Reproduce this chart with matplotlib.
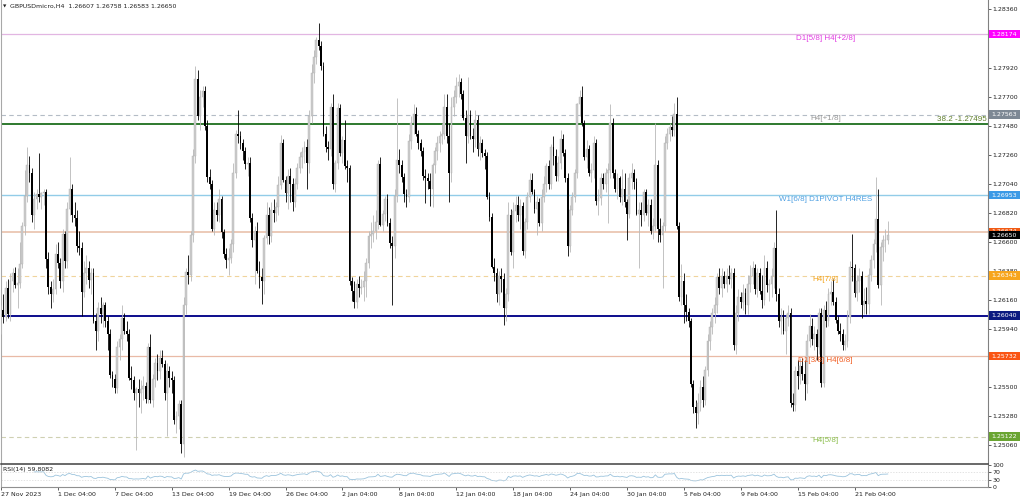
import numpy as np
import matplotlib.pyplot as plt
from matplotlib.patches import Rectangle

# GBPUSD H4 candles, prices in 1/10000 (12665 -> 1.2665)
opens = [
    12605, 12608, 12603, 12625, 12605, 12630, 12636, 12627, 12629, 12643, 12672, 12695, 12718, 12712, 12680,
    12692, 12696, 12694, 12697, 12698, 12647, 12626, 12620, 12624, 12651, 12644, 12630, 12666, 12645, 12685,
    12700, 12680, 12678, 12657, 12655, 12622, 12636, 12640, 12631, 12636, 12600, 12592, 12610, 12605, 12612,
    12600, 12590, 12559, 12556, 12549, 12580, 12586, 12602, 12592, 12590, 12557, 12555, 12545, 12548, 12545,
    12548, 12551, 12541, 12580, 12540, 12556, 12568, 12562, 12572, 12567, 12545, 12562, 12557, 12555, 12525,
    12528, 12537, 12507, 12612, 12637, 12635, 12665, 12725, 12783, 12755, 12770, 12774, 12748, 12709, 12704,
    12670, 12684, 12680, 12692, 12667, 12651, 12646, 12648, 12658, 12712, 12742, 12740, 12735, 12729, 12719,
    12720, 12678, 12661, 12668, 12638, 12633, 12630, 12663, 12680, 12664, 12684, 12682, 12686, 12703, 12735,
    12707, 12697, 12710, 12704, 12690, 12704, 12716, 12724, 12728, 12732, 12720, 12755, 12788, 12800, 12813,
    12808, 12793, 12742, 12732, 12730, 12762, 12704, 12720, 12761, 12727, 12737, 12717, 12716, 12630, 12623,
    12614, 12628, 12625, 12626, 12630, 12644, 12664, 12666, 12668, 12675, 12719, 12673, 12681, 12692, 12674,
    12659, 12657, 12695, 12722, 12718, 12709, 12696, 12694, 12736, 12750, 12757, 12742, 12735, 12729, 12710,
    12708, 12706, 12700, 12718, 12729, 12735, 12740, 12742, 12762, 12740, 12712, 12762, 12770, 12778, 12781,
    12772, 12754, 12740, 12756, 12740, 12738, 12752, 12730, 12735, 12727, 12725, 12694, 12679, 12641, 12636,
    12620, 12634, 12632, 12610, 12620, 12680, 12652, 12683, 12688, 12680, 12687, 12653, 12675, 12694, 12707,
    12698, 12685, 12690, 12674, 12694, 12704, 12717, 12704, 12732, 12725, 12710, 12720, 12738, 12727, 12708,
    12657, 12684, 12694, 12712, 12764, 12770, 12750, 12724, 12730, 12712, 12714, 12735, 12691, 12693, 12708,
    12704, 12712, 12714, 12750, 12712, 12700, 12708, 12694, 12700, 12690, 12681, 12708, 12712, 12705, 12681,
    12684, 12680, 12698, 12682, 12688, 12668, 12672, 12718, 12670, 12665, 12672, 12735, 12742, 12747, 12745,
    12757, 12672, 12618, 12630, 12612, 12607, 12600, 12552, 12535, 12530, 12538, 12550, 12540, 12563, 12585,
    12595, 12606, 12612, 12633, 12625, 12634, 12628, 12634, 12632, 12636, 12582, 12606, 12618, 12614, 12621,
    12612, 12628, 12634, 12640, 12624, 12636, 12623, 12616, 12640, 12627, 12628, 12634, 12655, 12620, 12600,
    12603, 12592, 12602, 12606, 12538, 12536, 12562, 12558, 12566, 12560, 12552, 12585, 12596, 12586, 12590,
    12580, 12606, 12553, 12608, 12600, 12620, 12622, 12614, 12601, 12592, 12590, 12582, 12585, 12603, 12641,
    12640, 12621, 12630, 12634, 12612, 12615, 12613, 12635, 12646, 12658, 12677, 12627, 12656, 12661, 12661,
]
highs = [
    12612, 12620, 12630, 12632, 12636, 12640, 12641, 12640, 12660, 12675, 12714, 12732, 12725, 12716, 12698,
    12700, 12727, 12698, 12700, 12700, 12652, 12630, 12632, 12658, 12660, 12648, 12670, 12668, 12690, 12724,
    12704, 12690, 12684, 12668, 12660, 12645, 12650, 12645, 12640, 12640, 12606, 12614, 12618, 12614, 12614,
    12604, 12594, 12562, 12560, 12585, 12590, 12612, 12606, 12600, 12594, 12566, 12558, 12550, 12556, 12555,
    12558, 12554, 12583, 12590, 12560, 12572, 12575, 12578, 12578, 12570, 12568, 12566, 12562, 12558, 12532,
    12540, 12540, 12618, 12640, 12650, 12668, 12730, 12793, 12790, 12775, 12778, 12778, 12752, 12715, 12707,
    12690, 12690, 12700, 12695, 12670, 12655, 12655, 12662, 12720, 12745, 12760, 12744, 12738, 12732, 12724,
    12724, 12682, 12672, 12675, 12645, 12640, 12665, 12690, 12686, 12690, 12692, 12690, 12710, 12741, 12738,
    12710, 12715, 12716, 12708, 12708, 12720, 12728, 12732, 12736, 12738, 12760, 12795, 12805, 12815, 12826,
    12812, 12796, 12748, 12736, 12765, 12772, 12722, 12765, 12764, 12740, 12752, 12722, 12718, 12633, 12630,
    12632, 12634, 12632, 12638, 12648, 12668, 12675, 12680, 12684, 12722, 12724, 12684, 12695, 12696, 12678,
    12664, 12700, 12769, 12730, 12722, 12712, 12700, 12742, 12755, 12764, 12762, 12745, 12738, 12732, 12715,
    12712, 12712, 12720, 12732, 12740, 12744, 12750, 12772, 12772, 12750, 12770, 12775, 12785, 12787, 12784,
    12775, 12760, 12785, 12760, 12746, 12760, 12756, 12740, 12738, 12730, 12728, 12698, 12682, 12648, 12640,
    12638, 12640, 12636, 12625, 12690, 12685, 12690, 12695, 12695, 12692, 12690, 12678, 12698, 12712, 12712,
    12700, 12695, 12693, 12700, 12710, 12720, 12722, 12734, 12740, 12730, 12725, 12745, 12742, 12730, 12712,
    12688, 12698, 12715, 12765, 12775, 12778, 12752, 12737, 12733, 12720, 12740, 12738, 12700, 12712, 12712,
    12716, 12720, 12764, 12754, 12715, 12712, 12710, 12715, 12712, 12692, 12712, 12720, 12715, 12708, 12690,
    12690, 12700, 12700, 12692, 12692, 12678, 12750, 12722, 12678, 12675, 12740, 12746, 12750, 12755, 12765,
    12770, 12675, 12643, 12636, 12620, 12610, 12602, 12555, 12540, 12545, 12555, 12558, 12566, 12590, 12600,
    12610, 12618, 12636, 12640, 12640, 12638, 12640, 12642, 12640, 12640, 12612, 12624, 12622, 12628, 12625,
    12635, 12642, 12645, 12643, 12640, 12640, 12635, 12650, 12645, 12632, 12640, 12660, 12684, 12625, 12610,
    12608, 12605, 12612, 12610, 12545, 12566, 12570, 12572, 12572, 12570, 12590, 12605, 12602, 12596, 12594,
    12610, 12610, 12612, 12615, 12625, 12630, 12632, 12618, 12604, 12598, 12594, 12590, 12608, 12645, 12666,
    12643, 12635, 12640, 12638, 12625, 12626, 12640, 12650, 12662, 12709, 12700, 12660, 12665, 12670, 12676,
]
lows = [
    12590, 12598, 12600, 12602, 12600, 12622, 12625, 12610, 12625, 12640, 12665, 12690, 12705, 12675, 12670,
    12685, 12690, 12685, 12688, 12640, 12620, 12610, 12614, 12620, 12640, 12625, 12622, 12640, 12640, 12680,
    12675, 12672, 12652, 12650, 12604, 12618, 12628, 12625, 12620, 12598, 12578, 12585, 12598, 12595, 12595,
    12578, 12557, 12550, 12545, 12545, 12570, 12578, 12590, 12585, 12555, 12548, 12540, 12502, 12535, 12530,
    12540, 12538, 12538, 12538, 12535, 12550, 12555, 12556, 12565, 12540, 12513, 12550, 12545, 12522, 12515,
    12518, 12500, 12497, 12605, 12628, 12630, 12660, 12720, 12752, 12745, 12762, 12745, 12705, 12700, 12668,
    12665, 12676, 12675, 12663, 12648, 12640, 12635, 12644, 12652, 12708, 12735, 12730, 12722, 12715, 12710,
    12675, 12656, 12628, 12636, 12625, 12613, 12620, 12658, 12658, 12660, 12675, 12676, 12680, 12700, 12705,
    12690, 12685, 12690, 12683, 12686, 12700, 12712, 12716, 12720, 12700, 12712, 12750, 12780, 12795, 12805,
    12790, 12740, 12728, 12722, 12725, 12700, 12698, 12715, 12725, 12720, 12715, 12705, 12627, 12615, 12610,
    12610, 12618, 12620, 12615, 12618, 12640, 12655, 12660, 12662, 12670, 12672, 12668, 12676, 12672, 12655,
    12612, 12648, 12690, 12712, 12705, 12690, 12686, 12690, 12730, 12742, 12740, 12730, 12725, 12707, 12689,
    12700, 12687, 12686, 12712, 12722, 12728, 12734, 12738, 12735, 12690, 12705, 12755, 12765, 12770, 12768,
    12752, 12720, 12735, 12738, 12728, 12732, 12725, 12722, 12724, 12715, 12692, 12676, 12640, 12630, 12614,
    12612, 12622, 12597, 12600, 12615, 12650, 12640, 12675, 12676, 12670, 12650, 12648, 12670, 12690, 12696,
    12682, 12665, 12672, 12668, 12690, 12698, 12700, 12700, 12718, 12706, 12706, 12715, 12725, 12705, 12649,
    12652, 12680, 12690, 12708, 12755, 12748, 12722, 12716, 12710, 12705, 12708, 12688, 12680, 12688, 12700,
    12698, 12674, 12708, 12708, 12698, 12692, 12690, 12688, 12686, 12661, 12678, 12700, 12700, 12680, 12640,
    12672, 12676, 12680, 12672, 12666, 12662, 12668, 12660, 12660, 12625, 12668, 12730, 12736, 12740, 12740,
    12670, 12615, 12612, 12598, 12600, 12595, 12550, 12530, 12519, 12522, 12532, 12535, 12536, 12558, 12578,
    12590, 12598, 12606, 12620, 12618, 12625, 12622, 12628, 12625, 12578, 12575, 12600, 12610, 12608, 12605,
    12605, 12622, 12628, 12620, 12618, 12620, 12610, 12612, 12622, 12615, 12618, 12625, 12615, 12595, 12590,
    12590, 12575, 12596, 12535, 12532, 12532, 12548, 12552, 12555, 12540, 12545, 12580, 12582, 12578, 12570,
    12575, 12550, 12550, 12595, 12596, 12612, 12612, 12598, 12590, 12585, 12578, 12578, 12580, 12598, 12630,
    12618, 12615, 12622, 12602, 12605, 12605, 12605, 12630, 12640, 12652, 12625, 12612, 12645, 12652, 12658,
]
closes = [
    12608, 12603, 12625, 12605, 12630, 12636, 12627, 12629, 12643, 12672, 12695, 12718, 12712, 12680, 12692,
    12696, 12694, 12697, 12698, 12647, 12626, 12620, 12624, 12651, 12644, 12630, 12666, 12645, 12685, 12700,
    12680, 12678, 12657, 12655, 12622, 12636, 12640, 12631, 12636, 12600, 12592, 12610, 12605, 12612, 12600,
    12590, 12559, 12556, 12549, 12580, 12586, 12602, 12592, 12590, 12557, 12555, 12545, 12548, 12545, 12548,
    12551, 12541, 12580, 12540, 12556, 12568, 12562, 12572, 12567, 12545, 12562, 12557, 12555, 12525, 12528,
    12537, 12507, 12612, 12637, 12635, 12665, 12725, 12783, 12755, 12770, 12774, 12748, 12709, 12704, 12670,
    12684, 12680, 12692, 12667, 12651, 12646, 12648, 12658, 12712, 12742, 12740, 12735, 12729, 12719, 12720,
    12678, 12661, 12668, 12638, 12633, 12630, 12663, 12680, 12664, 12684, 12682, 12686, 12703, 12735, 12707,
    12697, 12710, 12704, 12690, 12704, 12716, 12724, 12728, 12732, 12720, 12755, 12788, 12800, 12813, 12808,
    12793, 12742, 12732, 12730, 12762, 12704, 12720, 12761, 12727, 12737, 12717, 12716, 12630, 12623, 12614,
    12628, 12625, 12626, 12630, 12644, 12664, 12666, 12668, 12675, 12719, 12673, 12681, 12692, 12674, 12659,
    12657, 12695, 12722, 12718, 12709, 12696, 12694, 12736, 12750, 12757, 12742, 12735, 12729, 12710, 12708,
    12706, 12700, 12718, 12729, 12735, 12740, 12742, 12762, 12740, 12712, 12762, 12770, 12778, 12781, 12772,
    12754, 12740, 12756, 12740, 12738, 12752, 12730, 12735, 12727, 12725, 12694, 12679, 12641, 12636, 12620,
    12634, 12632, 12610, 12620, 12680, 12652, 12683, 12688, 12680, 12687, 12653, 12675, 12694, 12707, 12698,
    12685, 12690, 12674, 12694, 12704, 12717, 12704, 12732, 12725, 12710, 12720, 12738, 12727, 12708, 12657,
    12684, 12694, 12712, 12764, 12770, 12750, 12724, 12730, 12712, 12714, 12735, 12691, 12693, 12708, 12704,
    12712, 12714, 12750, 12712, 12700, 12708, 12694, 12700, 12690, 12681, 12708, 12712, 12705, 12681, 12684,
    12680, 12698, 12682, 12688, 12668, 12672, 12718, 12670, 12665, 12672, 12735, 12742, 12747, 12745, 12757,
    12672, 12618, 12630, 12612, 12607, 12600, 12552, 12535, 12530, 12538, 12550, 12540, 12563, 12585, 12595,
    12606, 12612, 12633, 12625, 12634, 12628, 12634, 12632, 12636, 12582, 12606, 12618, 12614, 12621, 12612,
    12628, 12634, 12640, 12624, 12636, 12623, 12616, 12640, 12627, 12628, 12634, 12655, 12620, 12600, 12603,
    12592, 12602, 12606, 12538, 12536, 12562, 12558, 12566, 12560, 12552, 12585, 12596, 12586, 12590, 12580,
    12606, 12553, 12608, 12600, 12620, 12622, 12614, 12601, 12592, 12590, 12582, 12585, 12603, 12641, 12640,
    12621, 12630, 12634, 12612, 12615, 12613, 12635, 12646, 12658, 12677, 12627, 12656, 12661, 12661, 12665,
]

date_labels = ["27 Nov 2023", "1 Dec 04:00", "7 Dec 04:00", "13 Dec 04:00", "19 Dec 04:00",
               "26 Dec 04:00", "2 Jan 04:00", "8 Jan 04:00", "12 Jan 04:00", "18 Jan 04:00",
               "24 Jan 04:00", "30 Jan 04:00", "5 Feb 04:00", "9 Feb 04:00", "15 Feb 04:00",
               "21 Feb 04:00"]
date_bars = [0, 24, 48, 72, 96, 120, 144, 168, 192, 216, 240, 264, 288, 312, 336, 360]

# price scale labels (the ones hidden under level boxes are left out)
price_ticks = [1.28360, 1.27920, 1.27700, 1.27480, 1.27260, 1.27040, 1.26820,
               1.26600, 1.26380, 1.26160, 1.25940, 1.25500, 1.25280, 1.25060]

# murrey / pivot levels drawn across the chart
level_prices = [1.28174, 1.27563, 1.27495, 1.26953, 1.26674, 1.26343, 1.26040, 1.25732, 1.25122]
level_names = ["D1[5/8] H4[+2/8]", "H4[+1/8]", "38.2 -1.27495", "W1[6/8] D1PIVOT H4RES", "",
               "H4[7/8]", "", "D1[3/8] H4[6/8]", "H4[5/8]"]
last_price = 1.26650
header = "GBPUSDmicro,H4  1.26607 1.26758 1.26583 1.26650"
rsi_label = "RSI(14) 59.8082"

# styles per level: line colour, width, dashed, text colour, box colour
level_style = [
    ("#e2b6e2", 0.9, False, "#e23ce2", "#ff00ff"),
    ("#b4bcc6", 0.8, True, "#9a9a9a", "#7d8894"),
    ("#1e6e1e", 1.3, False, "#5f7f2a", None),
    ("#92cce8", 1.0, False, "#4fa0e2", "#3c9ae6"),
    ("#eccab8", 1.4, False, None, "#f05a14"),
    ("#f0d49c", 0.8, True, "#f2a41e", "#f7a51d"),
    ("#0c0c8c", 1.4, False, None, "#0c1a80"),
    ("#e9baa6", 0.9, False, "#f25c20", "#fa5514"),
    ("#cfd0b2", 0.8, True, "#8cbf4e", "#6aa532"),
]

o = np.array(opens) / 1e4
h = np.array(highs) / 1e4
l = np.array(lows) / 1e4
c = np.array(closes) / 1e4
x = np.arange(len(c))
up = c >= o

W, H = 1024, 500
fig = plt.figure(figsize=(10.24, 5.0), dpi=100)
ax = fig.add_axes([1 / W, 36 / H, 987 / W, 464 / H])
rx = fig.add_axes([1 / W, 13 / H, 987 / W, 22 / H], sharex=ax)

px_per_bar = 2.371
ax.set_xlim(0, 987 / px_per_bar)
ax.set_ylim(1.24915, 1.28432)

# candles
body_lo = np.minimum(o, c)
body_h = np.maximum(np.abs(c - o), 0.000025)
ax.vlines(x[up], l[up], h[up], color="#b8b8b8", lw=0.6, zorder=3)
ax.vlines(x[~up], l[~up], h[~up], color="#000000", lw=0.6, zorder=3)
ax.bar(x[up], body_h[up], bottom=body_lo[up], width=0.78, color="#cccccc",
       edgecolor="#b0b0b0", lw=0.3, zorder=4)
ax.bar(x[~up], body_h[~up], bottom=body_lo[~up], width=0.78, color="#000000", lw=0, zorder=4)

# levels
ytr = ax.get_yaxis_transform()
px_y = (1.28432 - 1.24915) / 464
box_x0, box_w = 1 / 987, 31 / 987
for price, name, st in zip(level_prices, level_names, level_style):
    lc, lw, dashed, tc, bc = st
    ax.axhline(price, color=lc, lw=lw, ls=(0, (4, 3)) if dashed else "-", zorder=2)
    if name.startswith("38.2"):
        ax.text(0.9985, price + px_y * 0.5, name, transform=ytr, ha="right", va="bottom",
                color=tc, fontsize=5.8, family="Liberation Sans", zorder=5)
    elif name:
        ax.text(0.8354, price - px_y * 0.5, name, transform=ytr, ha="center", va="top",
                color=tc, fontsize=5.8, family="Liberation Sans", zorder=5)
    if bc:
        ax.add_patch(Rectangle((1 + box_x0, price - 4.2 * px_y), box_w, 8.4 * px_y,
                               transform=ytr, facecolor=bc, edgecolor="none",
                               clip_on=False, zorder=6))
        ax.text(1 + box_x0 + 2 / 987, price, "%.5f" % price, transform=ytr, ha="left",
                va="center", color="white", fontsize=4.5, clip_on=False, zorder=7)

# current price label
ax.add_patch(Rectangle((1 + box_x0, last_price - 4.2 * px_y), box_w, 8.4 * px_y,
                       transform=ytr, facecolor="#000000", edgecolor="none",
                       clip_on=False, zorder=8))
ax.text(1 + box_x0 + 2 / 987, last_price, "%.5f" % last_price, transform=ytr, ha="left",
        va="center", color="white", fontsize=4.5, clip_on=False, zorder=9)

ax.yaxis.tick_right()
ax.set_yticks(price_ticks)
ax.set_yticklabels(["%.5f" % t for t in price_ticks])
ax.tick_params(axis="y", labelsize=4.5, length=2, width=0.5, pad=1.2,
               colors="#202020", direction="out")
ax.tick_params(axis="x", bottom=False, labelbottom=False)
for side, col, w in (("left", "#a8a8a8", 0.8), ("right", "#808080", 0.8),
                     ("bottom", "#404040", 1.1)):
    ax.spines[side].set_color(col)
    ax.spines[side].set_linewidth(w)
ax.spines["top"].set_visible(False)

fig.text(3 / W, 1 - 6 / H, "\u25bc", fontsize=3.2, va="center", color="#202020")
fig.text(10 / W, 1 - 6 / H, header, fontsize=4.5, va="center", color="#202020")

# RSI(14), Wilder smoothing of the closes
n = 14
d = np.diff(c)
gain = np.where(d > 0, d, 0.0)
loss = np.where(d < 0, -d, 0.0)
rsi = np.full(len(c), np.nan)
ag, al = gain[:n].mean(), loss[:n].mean()
rsi[n] = 100 - 100 / (1 + ag / al)
for i in range(n, len(d)):
    ag = (ag * (n - 1) + gain[i]) / n
    al = (al * (n - 1) + loss[i]) / n
    rsi[i + 1] = 100 - 100 / (1 + ag / al)

rx.set_ylim(0, 100)
rx.plot(x, rsi, color="#9cc4dd", lw=0.6)
for lev in (70, 30):
    rx.axhline(lev, color="#d8d8d8", lw=0.5, ls=(0, (2, 2)))
rx.text(0.002, 0.8, rsi_label, transform=rx.transAxes, fontsize=4.5, va="center",
        color="#202020")
rx.yaxis.tick_right()
rx.set_yticks([0, 30, 70, 100])
rx.set_yticklabels(["0", "30", "70", "100"])
rx.tick_params(axis="y", labelsize=4.5, length=2, width=0.5, pad=1.2, colors="#202020")
rx.set_xticks(date_bars)
rx.set_xticklabels(date_labels, ha="left")
rx.tick_params(axis="x", labelsize=4.5, length=2, width=0.5, pad=1.5, colors="#202020")
for side, col, w in (("left", "#a8a8a8", 0.8), ("right", "#808080", 0.8),
                     ("bottom", "#909090", 0.8)):
    rx.spines[side].set_color(col)
    rx.spines[side].set_linewidth(w)
rx.spines["top"].set_visible(False)

fig.savefig("out.png", dpi=100, facecolor="white")
